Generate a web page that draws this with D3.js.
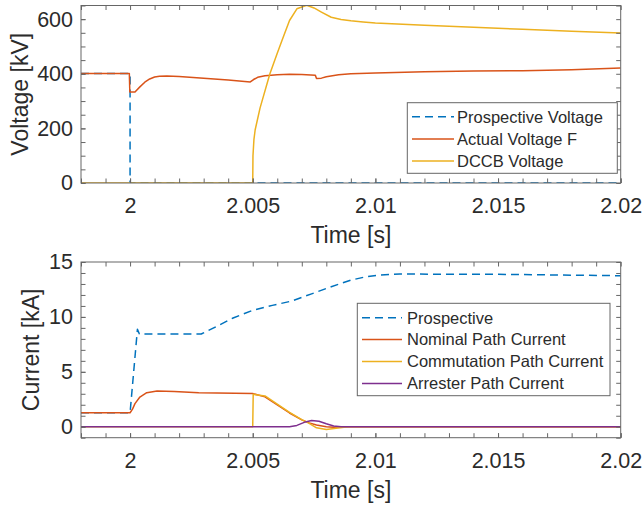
<!DOCTYPE html>
<html><head><meta charset="utf-8">
<script src="https://cdn.jsdelivr.net/npm/d3@7"></script>
<style>
body{margin:0;background:#fff}
svg{display:block}
text{font-family:"Liberation Sans",Arial,Helvetica,sans-serif;fill:#2b2b2b}
</style>
</head><body>
<svg id="chart" width="643" height="508"></svg>
<script>
// ---------- data ----------
const xTicks = [2, 2.005, 2.01, 2.015, 2.02];
const xTickLabels = ["2", "2.005", "2.01", "2.015", "2.02"];
const voltageTicks = [0, 200, 400, 600];
const currentTicks = [0, 5, 10, 15];

const voltageNames = ["Prospective Voltage", "Actual Voltage F", "DCCB Voltage"];
const currentNames = ["Prospective", "Nominal Path Current", "Commutation Path Current", "Arrester Path Current"];

// time [s], voltage [kV]
const prospectiveVoltage = [[1.998,401],[2.0,401],[2.0,0],[2.02,0]];
const actualVoltage = [[1.998,401],[1.99997,401],[1.99999,333],[2.0002,333],[2.0004,352],[2.0006,369],[2.0008,381],[2.001,388],[2.0012,391],[2.0015,392],[2.002,390],[2.003,384],[2.004,377],[2.0049,370],[2.00502,378],[2.0052,387],[2.0055,393],[2.006,396],[2.0065,398],[2.007,397],[2.00755,395],[2.0076,383],[2.0078,384],[2.008,389],[2.0085,396],[2.009,400],[2.01,403],[2.012,407],[2.014,410],[2.016,411],[2.018,415],[2.02,421]];
const dccbVoltage = [[1.998,0],[2.005,0],[2.00501,100],[2.00505,160],[2.0051,195],[2.0053,275],[2.0057,400],[2.006,475],[2.0062,524],[2.0065,595],[2.0068,638],[2.0072,651],[2.0075,641],[2.0078,626],[2.0082,607],[2.0086,599],[2.009,594],[2.0095,590],[2.01,586],[2.012,578],[2.014,570],[2.016,563],[2.018,556],[2.02,549]];

// time [s], current [kA]
const prospectiveCurrent = [[1.998,1.27],[2.0,1.27],[2.0003,8.87],[2.00038,8.44],[2.0029,8.44],[2.0035,9.1],[2.0042,9.9],[2.005,10.6],[2.0058,11.05],[2.0066,11.45],[2.0074,12.1],[2.0082,12.75],[2.009,13.35],[2.0096,13.65],[2.0102,13.82],[2.011,13.9],[2.015,13.88],[2.02,13.75]];
const nominalCurrent = [[1.998,1.27],[2.0,1.27],[2.0001,1.6],[2.0002,2.1],[2.0004,2.7],[2.00068,3.1],[2.0011,3.25],[2.0018,3.2],[2.0028,3.1],[2.005,3.02],[2.0055,2.72],[2.006,1.98],[2.0065,1.25],[2.007,0.62],[2.0073,0.35],[2.0076,0.15],[2.008,0.0],[2.0083,-0.05],[2.0088,0],[2.02,0]];
const commutationCurrent = [[1.998,0],[2.005,0],[2.00502,2.95],[2.0055,2.8],[2.006,2.05],[2.0065,1.3],[2.007,0.65],[2.0073,0.3],[2.0076,-0.1],[2.008,-0.25],[2.0084,-0.15],[2.0088,-0.03],[2.009,0],[2.02,0]];
const arresterCurrent = [[1.998,0],[2.0065,0],[2.0068,0.12],[2.0071,0.4],[2.0074,0.57],[2.0077,0.5],[2.008,0.27],[2.0083,0.07],[2.0086,0],[2.02,0]];

// ---------- style ----------
const colors = ["#0072BD", "#D95319", "#EDB120", "#7E2F8E"];
const svg = d3.select("#chart");
const L = 81, R = 620.7;
const axisColor = "#666";
const tickFont = "21.5px", labelFont = "23px", legendFont = "16.5px";

function panel(opts) {
  const {top, bottom, yDomain, yTicks, yMinorStep, series, names, dashed, ylabel, ylabelX, legend} = opts;
  const x = d3.scaleLinear().domain([1.998, 2.02]).range([L, R]);
  const y = d3.scaleLinear().domain(yDomain).range([bottom, top]);
  const g = svg.append("g");
  const xMinor = d3.range(0, 23).map(i => 1.998 + i * 0.001);
  const yMinor = d3.range(yDomain[0], yDomain[1] + 1e-9, yMinorStep);

  const cid = "clip" + Math.round(top);
  svg.append("clipPath").attr("id", cid).append("rect")
    .attr("x", L).attr("y", top).attr("width", R - L).attr("height", bottom - top);

  const line = d3.line().x(d => x(d[0])).y(d => y(d[1]));
  const lg = g.append("g").attr("clip-path", `url(#${cid})`);
  series.forEach((s, i) => {
    lg.append("path").attr("d", line(s)).attr("fill", "none")
      .attr("stroke", colors[i]).attr("stroke-width", 1.5)
      .attr("stroke-linejoin", "round")
      .attr("stroke-dasharray", dashed[i] ? "8,5" : null);
  });

  function styleAx(sel) {
    sel.select(".domain").remove();
    sel.selectAll("line").attr("stroke", axisColor).attr("stroke-width", 1);
    sel.selectAll("text").style("font-size", tickFont).attr("fill", "#2b2b2b")
      .style("font-family", '"Liberation Sans",Arial,sans-serif');
  }
  const ax = (gen, tx, ty) => g.append("g").attr("transform", `translate(${tx},${ty})`).call(gen).call(styleAx);

  ax(d3.axisBottom(x).tickValues(xMinor).tickFormat("").tickSizeInner(-4.5).tickSizeOuter(0), 0, bottom);
  ax(d3.axisTop(x).tickValues(xMinor).tickFormat("").tickSizeInner(-4.5).tickSizeOuter(0), 0, top);
  ax(d3.axisLeft(y).tickValues(yMinor).tickFormat("").tickSizeInner(-4.5).tickSizeOuter(0), L, 0);
  ax(d3.axisRight(y).tickValues(yMinor).tickFormat("").tickSizeInner(-4.5).tickSizeOuter(0), R, 0);
  ax(d3.axisBottom(x).tickValues(xTicks).tickFormat((d, i) => xTickLabels[i]).tickSizeInner(-4.5).tickSizeOuter(0).tickPadding(15), 0, bottom);
  ax(d3.axisLeft(y).tickValues(yTicks).tickFormat(d3.format("d")).tickSizeInner(-4.5).tickSizeOuter(0).tickPadding(8), L, 0);

  g.append("rect").attr("x", L).attr("y", top).attr("width", R - L).attr("height", bottom - top)
    .attr("fill", "none").attr("stroke", axisColor).attr("stroke-width", 1);

  g.append("text").attr("x", (L + R) / 2).attr("y", bottom + 60).attr("text-anchor", "middle")
    .style("font-size", labelFont).text("Time [s]");
  g.append("text").attr("transform", `translate(${ylabelX},${(top + bottom) / 2}) rotate(-90)`)
    .attr("text-anchor", "middle").style("font-size", labelFont).text(ylabel);

  const lgd = g.append("g");
  lgd.append("rect").attr("x", legend.x0).attr("y", legend.y0)
    .attr("width", legend.x1 - legend.x0).attr("height", legend.y1 - legend.y0)
    .attr("fill", "#fff").attr("stroke", axisColor).attr("stroke-width", 1);
  names.forEach((n, i) => {
    const cy = legend.firstY + i * legend.step;
    lgd.append("line").attr("x1", legend.lineX0).attr("x2", legend.lineX1)
      .attr("y1", cy).attr("y2", cy).attr("stroke", colors[i]).attr("stroke-width", 1.5)
      .attr("stroke-dasharray", dashed[i] ? "8,5" : null);
    lgd.append("text").attr("x", legend.textX).attr("y", cy + 5.8)
      .style("font-size", legendFont).text(n);
  });
}

panel({
  top: 5.5, bottom: 183, yDomain: [0, 650], yTicks: voltageTicks, yMinorStep: 50,
  series: [prospectiveVoltage, actualVoltage, dccbVoltage], names: voltageNames,
  dashed: [true, false, false], ylabel: "Voltage [kV]", ylabelX: 28,
  legend: {x0: 407.3, x1: 617.3, y0: 102.7, y1: 173.3, lineX0: 412, lineX1: 454, textX: 457, firstY: 116.7, step: 22.2}
});
panel({
  top: 262, bottom: 437.7, yDomain: [-1, 15], yTicks: currentTicks, yMinorStep: 1,
  series: [prospectiveCurrent, nominalCurrent, commutationCurrent, arresterCurrent], names: currentNames,
  dashed: [true, false, false, false], ylabel: "Current [kA]", ylabelX: 39,
  legend: {x0: 357.3, x1: 610, y0: 303.3, y1: 395.7, lineX0: 362, lineX1: 402, textX: 407, firstY: 317.7, step: 21.9}
});
</script>
</body></html>
